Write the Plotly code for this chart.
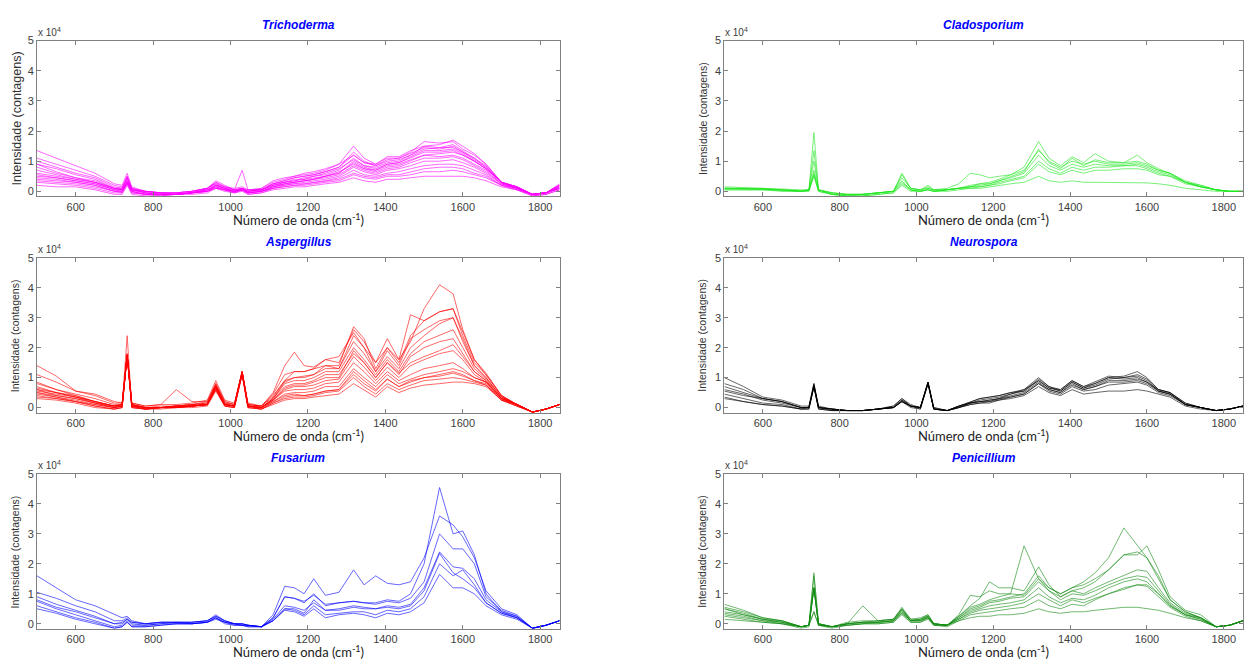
import plotly.graph_objects as go

# Raman shift grid (cm-1) shared by all spectra
WAVENUMBER = [500, 550, 600, 650, 700, 720, 733, 745, 780, 820, 860, 900, 940, 962, 985,
              1010, 1030, 1045, 1080, 1110, 1140, 1165, 1190, 1215, 1245, 1280, 1318, 1345,
              1375, 1405, 1435, 1465, 1500, 1540, 1575, 1600, 1630, 1660, 1700, 1740, 1780,
              1815, 1850]

# Intensities in units of 10^4 counts
TRICHODERMA = [
    [1.35,1.1,0.85,0.6,0.25,0.2,0.6,0.15,0.0,-0.05,-0.05,0.0,0.1,0.25,0.15,0.1,0.15,0.05,0.1,0.3,0.4,0.5,0.55,0.6,0.7,0.9,1.5,1.1,0.9,1.1,1.1,1.3,1.65,1.6,1.65,1.4,1.2,0.9,0.3,0.15,-0.1,-0.05,0.25],
    [1.1,0.9,0.7,0.5,0.2,0.15,0.5,0.1,0.0,-0.05,-0.1,-0.05,0.1,0.3,0.15,0.05,0.7,0.05,0.05,0.25,0.35,0.45,0.5,0.55,0.65,0.8,1.3,1.0,0.85,1.0,1.05,1.2,1.5,1.45,1.55,1.35,1.1,0.85,0.3,0.15,-0.1,-0.05,0.2],
    [0.9,0.75,0.55,0.4,0.1,0.1,0.4,0.1,-0.05,-0.1,-0.1,-0.05,0.05,0.2,0.1,0.0,0.1,0.0,0.05,0.2,0.3,0.4,0.4,0.5,0.55,0.7,1.1,0.85,0.75,0.9,0.95,1.1,1.3,1.3,1.35,1.2,1.0,0.75,0.3,0.15,-0.1,-0.05,0.15],
    [0.7,0.55,0.4,0.3,0.05,0.05,0.35,0.05,-0.05,-0.1,-0.1,-0.05,0.0,0.2,0.1,0.0,0.1,-0.05,0.0,0.15,0.25,0.3,0.35,0.4,0.5,0.6,0.95,0.75,0.65,0.8,0.85,1.0,1.2,1.15,1.2,1.1,0.9,0.7,0.25,0.1,-0.1,-0.05,0.15],
    [0.5,0.45,0.35,0.25,0.05,0.0,0.3,0.0,-0.1,-0.1,-0.1,-0.05,0.0,0.15,0.05,0.0,0.05,-0.05,0.0,0.15,0.2,0.25,0.3,0.35,0.4,0.5,0.8,0.65,0.55,0.7,0.75,0.85,1.0,1.0,1.05,0.95,0.8,0.6,0.25,0.1,-0.1,-0.05,0.1],
    [0.4,0.35,0.3,0.2,0.0,0.0,0.3,0.0,-0.1,-0.1,-0.1,-0.05,0.05,0.15,0.05,0.0,0.05,-0.05,0.0,0.1,0.2,0.25,0.25,0.3,0.35,0.45,0.7,0.55,0.5,0.6,0.65,0.75,0.85,0.9,0.9,0.85,0.7,0.55,0.2,0.1,-0.1,-0.05,0.1],
    [0.3,0.25,0.2,0.1,-0.05,-0.05,0.25,-0.05,-0.1,-0.15,-0.1,-0.05,0.0,0.1,0.05,-0.05,0.05,-0.1,-0.05,0.1,0.15,0.2,0.2,0.25,0.3,0.35,0.55,0.45,0.4,0.5,0.5,0.55,0.65,0.65,0.7,0.65,0.55,0.45,0.2,0.05,-0.15,-0.1,0.05],
    [0.2,0.15,0.15,0.05,-0.1,-0.1,0.2,-0.1,-0.15,-0.15,-0.1,-0.1,-0.05,0.1,0.0,-0.05,0.0,-0.1,-0.05,0.05,0.1,0.15,0.15,0.2,0.25,0.3,0.45,0.35,0.3,0.4,0.4,0.45,0.5,0.5,0.5,0.5,0.45,0.35,0.15,0.05,-0.15,-0.1,0.05],
    [0.9,0.65,0.45,0.3,0.1,0.05,0.5,0.05,0.0,-0.05,-0.05,0.0,0.1,0.35,0.2,0.05,0.1,0.0,0.1,0.35,0.45,0.5,0.6,0.65,0.75,0.9,1.2,0.95,0.9,1.15,1.15,1.35,1.5,1.55,1.7,1.5,1.25,0.9,0.3,0.15,-0.1,-0.05,0.2],
    [0.6,0.5,0.4,0.3,0.1,0.05,0.3,0.05,-0.05,-0.1,-0.1,-0.05,0.05,0.2,0.1,0.0,0.05,0.0,0.05,0.2,0.3,0.35,0.4,0.45,0.5,0.65,0.9,0.75,0.7,0.85,0.9,1.05,1.2,1.25,1.3,1.2,1.0,0.75,0.3,0.1,-0.1,-0.05,0.15],
    [0.8,0.6,0.45,0.35,0.1,0.1,0.45,0.05,0.0,-0.05,-0.05,0.0,0.1,0.3,0.15,0.05,0.1,0.0,0.05,0.25,0.35,0.45,0.5,0.55,0.65,0.8,1.2,0.95,0.85,1.05,1.1,1.25,1.45,1.4,1.5,1.3,1.1,0.8,0.3,0.1,-0.1,-0.05,0.2],
    [0.45,0.4,0.3,0.2,0.0,0.0,0.3,0.0,-0.1,-0.1,-0.1,-0.05,0.0,0.15,0.05,0.0,0.05,-0.05,0.0,0.15,0.25,0.3,0.35,0.4,0.45,0.55,0.85,0.7,0.6,0.75,0.8,0.95,1.1,1.1,1.15,1.05,0.85,0.65,0.25,0.1,-0.1,-0.05,0.1],
    [1.0,0.8,0.6,0.45,0.15,0.1,0.45,0.1,0.0,-0.05,-0.05,0.0,0.1,0.25,0.1,0.05,0.1,0.05,0.05,0.25,0.3,0.35,0.45,0.5,0.6,0.75,1.05,0.85,0.8,0.95,1.0,1.2,1.4,1.45,1.45,1.3,1.05,0.8,0.3,0.15,-0.1,-0.05,0.2],
    [0.35,0.3,0.25,0.15,0.0,-0.05,0.25,-0.05,-0.1,-0.1,-0.1,-0.05,0.0,0.1,0.05,-0.05,0.05,-0.05,0.0,0.1,0.15,0.2,0.25,0.3,0.35,0.4,0.6,0.5,0.45,0.55,0.55,0.65,0.75,0.8,0.8,0.75,0.6,0.5,0.2,0.05,-0.1,-0.05,0.1],
    [0.55,0.45,0.35,0.25,0.05,0.05,0.35,0.05,-0.05,-0.1,-0.1,-0.05,0.05,0.2,0.1,0.0,0.05,0.0,0.05,0.2,0.25,0.3,0.35,0.4,0.5,0.6,1.0,0.8,0.7,0.9,0.95,1.15,1.35,1.35,1.4,1.25,1.0,0.75,0.3,0.1,-0.1,-0.05,0.15],
]

CLADOSPORIUM = [
    [0.1,0.1,0.08,0.05,0.02,0.05,1.95,0.05,-0.05,-0.1,-0.1,-0.05,0.0,0.55,0.1,0.05,0.15,0.05,0.05,0.1,0.2,0.25,0.3,0.4,0.55,0.8,1.65,1.1,0.85,1.15,0.95,1.25,1.0,0.95,1.2,0.95,0.75,0.6,0.35,0.2,0.05,0.0,0.0],
    [0.15,0.12,0.1,0.08,0.05,0.05,1.35,0.05,-0.05,-0.1,-0.1,-0.05,0.0,0.45,0.1,0.05,0.1,0.05,0.1,0.25,0.6,0.55,0.45,0.5,0.55,0.7,1.35,1.0,0.8,1.0,0.9,1.0,0.9,0.9,0.95,0.85,0.7,0.6,0.3,0.2,0.05,0.0,0.0],
    [0.1,0.1,0.1,0.05,0.0,0.05,0.7,0.05,-0.1,-0.1,-0.1,-0.05,0.0,0.35,0.05,0.0,0.1,0.0,0.05,0.1,0.15,0.2,0.25,0.35,0.45,0.6,1.2,0.85,0.7,0.9,0.8,0.9,0.85,0.85,0.9,0.8,0.65,0.55,0.3,0.15,0.05,0.0,0.0],
    [0.1,0.08,0.08,0.05,0.0,0.05,0.6,0.05,-0.1,-0.15,-0.1,-0.05,0.0,0.3,0.05,0.0,0.05,0.0,0.05,0.1,0.15,0.15,0.2,0.3,0.4,0.5,1.0,0.75,0.6,0.8,0.7,0.8,0.8,0.85,0.85,0.75,0.6,0.5,0.3,0.15,0.05,0.0,0.0],
    [0.05,0.05,0.05,0.02,0.0,0.02,0.55,0.0,-0.1,-0.15,-0.15,-0.1,-0.05,0.25,0.05,0.0,0.05,0.0,0.05,0.1,0.1,0.15,0.2,0.25,0.35,0.45,0.9,0.65,0.55,0.7,0.6,0.7,0.7,0.75,0.75,0.7,0.55,0.5,0.25,0.15,0.05,0.0,0.0],
    [0.05,0.05,0.05,0.0,0.0,0.0,0.5,0.0,-0.1,-0.15,-0.15,-0.1,-0.05,0.2,0.0,0.0,0.05,0.0,0.0,0.05,0.1,0.1,0.15,0.2,0.25,0.3,0.5,0.35,0.3,0.35,0.3,0.3,0.3,0.3,0.3,0.28,0.25,0.2,0.1,0.05,0.0,0.0,0.0],
    [0.1,0.1,0.08,0.05,0.0,0.05,1.0,0.05,-0.05,-0.1,-0.1,-0.05,0.0,0.6,0.1,0.05,0.2,0.05,0.05,0.1,0.15,0.25,0.25,0.35,0.5,0.65,1.4,0.95,0.75,1.1,0.85,1.05,0.95,0.95,1.0,0.9,0.7,0.6,0.3,0.15,0.05,0.0,0.0],
]

ASPERGILLUS = [
    [0.8,0.6,0.4,0.2,0.05,0.1,1.8,0.1,0.0,0.0,0.05,0.1,0.2,0.8,0.2,0.1,1.2,0.1,0.05,0.4,0.9,1.2,1.2,1.3,1.6,1.7,2.5,2.0,1.5,2.0,1.6,2.2,3.3,4.1,3.8,2.6,1.6,1.1,0.4,0.1,-0.15,-0.05,0.1],
    [1.1,0.85,0.55,0.4,0.15,0.15,1.8,0.15,0.05,0.1,0.1,0.15,0.25,0.9,0.25,0.15,1.2,0.15,0.05,0.5,1.4,1.85,1.4,1.35,1.6,1.5,2.6,2.2,1.5,2.3,1.6,3.1,2.9,3.2,3.3,2.5,1.6,1.15,0.4,0.1,-0.15,-0.05,0.1],
    [1.4,1.05,0.55,0.45,0.2,0.15,1.75,0.15,0.05,0.1,0.6,0.2,0.2,0.8,0.2,0.1,1.2,0.1,0.05,0.45,1.1,1.2,1.2,1.3,1.4,1.4,2.7,2.3,1.3,2.0,1.5,2.4,2.9,3.2,3.3,2.4,1.5,1.1,0.4,0.1,-0.15,-0.05,0.1],
    [0.85,0.6,0.45,0.3,0.1,0.1,1.75,0.1,0.0,0.05,0.05,0.1,0.15,0.75,0.15,0.1,1.2,0.1,0.05,0.35,0.9,1.0,1.05,1.1,1.3,1.3,2.2,1.8,1.2,1.7,1.3,2.0,2.4,2.8,3.0,2.2,1.4,1.0,0.35,0.1,-0.15,-0.05,0.1],
    [0.7,0.5,0.35,0.2,0.05,0.1,1.75,0.1,0.0,0.0,0.05,0.1,0.1,0.7,0.1,0.05,1.2,0.05,0.0,0.3,0.8,0.9,0.9,1.0,1.2,1.2,2.0,1.6,1.1,1.6,1.2,1.8,2.2,2.4,2.6,2.0,1.3,0.95,0.35,0.1,-0.15,-0.05,0.1],
    [0.6,0.4,0.3,0.15,0.05,0.1,1.75,0.1,0.0,0.0,0.05,0.05,0.1,0.7,0.1,0.05,1.15,0.05,0.0,0.3,0.7,0.8,0.8,0.9,1.1,1.1,1.8,1.5,1.0,1.5,1.1,1.7,2.0,2.2,2.3,1.8,1.2,0.9,0.3,0.1,-0.15,-0.05,0.1],
    [0.5,0.35,0.25,0.1,0.0,0.05,1.75,0.05,-0.05,0.0,0.0,0.05,0.1,0.65,0.1,0.05,1.15,0.05,0.0,0.25,0.55,0.6,0.6,0.65,0.8,0.85,1.5,1.2,0.8,1.2,0.9,1.1,1.3,1.4,1.5,1.3,1.0,0.85,0.3,0.1,-0.15,-0.05,0.1],
    [0.55,0.45,0.35,0.15,0.0,0.05,2.4,0.05,-0.05,0.0,0.0,0.05,0.1,0.7,0.1,0.05,1.2,0.05,0.0,0.2,0.45,0.5,0.5,0.55,0.7,0.7,1.3,1.0,0.7,1.1,0.8,0.95,1.1,1.2,1.3,1.2,1.0,0.85,0.3,0.1,-0.15,-0.05,0.1],
    [0.45,0.35,0.2,0.1,0.0,0.05,1.75,0.05,-0.05,0.0,0.0,0.05,0.1,0.6,0.1,0.05,1.15,0.05,-0.05,0.2,0.4,0.45,0.4,0.45,0.55,0.6,1.1,0.8,0.55,0.95,0.7,0.85,1.0,1.05,1.15,1.05,0.9,0.8,0.25,0.1,-0.15,-0.05,0.1],
    [0.4,0.3,0.2,0.05,-0.05,0.0,1.75,0.0,-0.05,0.0,0.0,0.05,0.1,0.6,0.05,0.0,1.1,0.0,-0.05,0.15,0.3,0.35,0.35,0.4,0.5,0.55,1.0,0.7,0.45,0.8,0.6,0.75,0.9,0.95,1.0,0.95,0.85,0.75,0.25,0.05,-0.15,-0.05,0.1],
    [0.3,0.25,0.15,0.0,-0.05,0.0,1.75,0.0,-0.05,-0.05,0.0,0.0,0.05,0.55,0.05,0.0,1.1,0.0,-0.05,0.1,0.25,0.3,0.3,0.35,0.4,0.45,0.8,0.6,0.35,0.7,0.5,0.65,0.75,0.8,0.85,0.85,0.8,0.7,0.25,0.05,-0.15,-0.05,0.1],
    [0.6,0.5,0.4,0.2,0.05,0.1,1.75,0.1,0.0,0.0,0.05,0.1,0.15,0.75,0.15,0.05,1.2,0.05,0.0,0.3,0.85,1.0,1.0,1.1,1.4,1.3,2.4,2.0,1.2,1.9,1.4,2.3,2.6,2.9,3.0,2.3,1.4,1.0,0.35,0.1,-0.15,-0.05,0.1],
    [0.5,0.4,0.3,0.15,0.0,0.05,1.75,0.05,0.0,0.0,0.05,0.05,0.1,0.65,0.1,0.05,1.15,0.05,0.0,0.25,0.6,0.7,0.7,0.75,0.9,0.95,1.7,1.35,0.9,1.35,1.0,1.4,1.6,1.8,1.9,1.6,1.1,0.85,0.3,0.1,-0.15,-0.05,0.1],
    [0.65,0.5,0.35,0.2,0.05,0.05,1.75,0.05,0.0,0.0,0.05,0.05,0.1,0.7,0.1,0.05,1.15,0.05,0.0,0.25,0.65,0.75,0.75,0.85,1.0,1.0,1.9,1.5,1.0,1.5,1.15,1.5,1.7,1.9,2.1,1.7,1.2,0.9,0.3,0.1,-0.15,-0.05,0.1],
    [0.35,0.3,0.2,0.05,-0.05,0.0,1.75,0.0,-0.05,0.0,0.0,0.05,0.1,0.6,0.05,0.0,1.1,0.0,-0.05,0.15,0.35,0.4,0.4,0.45,0.55,0.6,1.2,0.9,0.6,0.95,0.7,0.9,1.0,1.1,1.2,1.1,0.9,0.75,0.25,0.05,-0.15,-0.05,0.1],
]

NEUROSPORA = [
    [1.0,0.7,0.35,0.25,0.05,0.05,0.8,0.05,-0.05,-0.1,-0.1,-0.05,0.05,0.3,0.1,0.0,0.85,0.0,-0.1,0.05,0.15,0.25,0.3,0.35,0.45,0.6,1.0,0.7,0.6,0.9,0.7,0.8,1.0,1.05,1.2,1.0,0.6,0.5,0.15,0.0,-0.1,-0.05,0.05],
    [0.8,0.6,0.3,0.2,0.0,0.0,0.75,0.0,-0.05,-0.1,-0.1,-0.05,0.0,0.25,0.05,0.0,0.85,-0.05,-0.1,0.05,0.15,0.2,0.25,0.3,0.45,0.55,0.9,0.65,0.55,0.85,0.65,0.75,0.95,1.0,1.05,0.9,0.55,0.45,0.1,0.0,-0.1,-0.05,0.05],
    [0.7,0.5,0.3,0.2,0.0,0.0,0.7,0.0,-0.05,-0.1,-0.1,-0.05,0.0,0.2,0.05,0.0,0.8,-0.05,-0.1,0.0,0.15,0.2,0.2,0.3,0.4,0.5,0.85,0.6,0.5,0.8,0.6,0.7,0.9,0.9,0.95,0.85,0.55,0.45,0.1,0.0,-0.1,-0.05,0.05],
    [0.6,0.45,0.25,0.15,0.0,0.0,0.75,0.0,-0.05,-0.1,-0.1,-0.05,0.0,0.25,0.05,0.0,0.85,-0.05,-0.1,0.05,0.2,0.3,0.35,0.4,0.5,0.55,0.95,0.7,0.55,0.85,0.65,0.8,1.0,0.95,1.0,0.85,0.6,0.5,0.1,0.0,-0.1,-0.05,0.05],
    [0.45,0.3,0.15,0.1,-0.05,-0.05,0.7,-0.05,-0.1,-0.1,-0.1,-0.05,0.0,0.2,0.05,-0.05,0.8,-0.05,-0.1,0.0,0.1,0.15,0.2,0.25,0.35,0.45,0.8,0.55,0.45,0.7,0.55,0.6,0.75,0.8,0.85,0.75,0.5,0.4,0.1,0.0,-0.1,-0.05,0.05],
    [0.35,0.2,0.1,0.05,-0.05,-0.05,0.7,-0.05,-0.1,-0.1,-0.1,-0.05,0.0,0.2,0.0,-0.05,0.8,-0.05,-0.1,0.0,0.1,0.15,0.15,0.25,0.3,0.4,0.7,0.5,0.4,0.6,0.45,0.5,0.55,0.55,0.6,0.55,0.45,0.35,0.05,-0.05,-0.1,-0.05,0.05],
    [0.55,0.4,0.3,0.2,0.0,0.0,0.8,0.0,-0.05,-0.1,-0.1,-0.05,0.05,0.3,0.05,0.0,0.85,0.0,-0.1,0.05,0.2,0.3,0.35,0.4,0.5,0.6,0.9,0.65,0.6,0.9,0.7,0.85,1.05,1.0,1.1,0.95,0.6,0.5,0.15,0.0,-0.1,-0.05,0.05],
    [0.3,0.2,0.1,0.05,-0.05,0.0,0.7,0.0,-0.1,-0.1,-0.1,-0.05,0.0,0.2,0.05,0.0,0.8,-0.05,-0.1,0.0,0.15,0.2,0.25,0.3,0.35,0.45,0.8,0.6,0.5,0.75,0.6,0.7,0.85,0.85,0.9,0.8,0.55,0.45,0.1,0.0,-0.1,-0.05,0.05],
]

FUSARIUM = [
    [0.8,0.55,0.4,0.2,0.0,0.05,0.15,0.05,0.0,0.05,0.05,0.05,0.1,0.25,0.1,0.0,0.0,-0.05,-0.1,0.2,0.9,0.85,0.7,1.0,0.6,0.7,0.75,0.7,0.7,0.8,0.75,1.0,2.0,4.55,3.0,3.1,2.3,1.0,0.4,0.25,-0.15,-0.05,0.1],
    [1.6,1.2,0.8,0.6,0.3,0.2,0.25,0.1,0.0,0.05,0.05,0.05,0.1,0.3,0.1,0.0,0.0,-0.05,-0.1,0.3,1.25,1.2,1.0,1.5,0.95,1.05,1.8,1.3,1.6,1.35,1.3,1.4,2.2,3.6,3.3,2.9,2.2,1.1,0.5,0.3,-0.15,-0.05,0.1],
    [1.05,0.85,0.6,0.4,0.1,0.1,0.2,0.05,0.0,0.05,0.05,0.05,0.1,0.25,0.1,0.0,0.0,-0.05,-0.1,0.2,0.9,0.85,0.75,0.95,0.65,0.7,0.75,0.7,0.65,0.75,0.7,0.85,1.4,3.0,2.5,2.5,2.0,0.9,0.45,0.25,-0.15,-0.05,0.1],
    [0.9,0.65,0.45,0.25,0.0,0.0,0.15,0.0,-0.05,0.0,0.05,0.0,0.05,0.2,0.05,0.0,-0.05,-0.05,-0.1,0.15,0.6,0.55,0.45,0.7,0.45,0.5,0.6,0.55,0.5,0.6,0.55,0.65,1.2,2.4,1.9,1.85,1.5,0.8,0.4,0.2,-0.15,-0.05,0.1],
    [0.75,0.5,0.3,0.1,-0.1,-0.05,0.1,-0.05,-0.05,0.0,0.0,0.0,0.05,0.2,0.05,0.0,-0.05,-0.05,-0.1,0.1,0.5,0.45,0.3,0.6,0.3,0.35,0.4,0.4,0.3,0.45,0.4,0.5,0.9,2.0,1.6,1.8,1.3,0.7,0.35,0.2,-0.15,-0.05,0.1],
    [0.6,0.4,0.2,0.05,-0.15,-0.1,0.05,-0.1,-0.1,-0.05,0.0,0.0,0.05,0.15,0.05,-0.05,-0.05,-0.1,-0.1,0.1,0.45,0.4,0.25,0.5,0.2,0.3,0.35,0.3,0.2,0.35,0.3,0.4,0.7,1.65,1.2,1.2,1.0,0.6,0.3,0.15,-0.15,-0.05,0.1],
    [0.5,0.35,0.15,0.0,-0.15,-0.1,0.05,-0.1,-0.1,-0.05,0.0,0.0,0.05,0.2,0.0,-0.05,-0.05,-0.1,-0.1,0.1,0.5,0.5,0.35,0.8,0.45,0.45,0.55,0.5,0.5,0.55,0.5,0.6,1.1,2.35,1.7,1.5,1.2,0.7,0.35,0.2,-0.15,-0.05,0.1],
]

PENICILLIUM = [
    [0.5,0.3,0.15,0.05,-0.1,-0.05,1.2,0.0,-0.1,0.0,0.05,0.1,0.15,0.5,0.15,0.15,0.25,0.0,-0.05,0.2,0.5,0.6,0.75,0.8,0.9,1.0,1.6,1.2,1.0,1.2,1.4,1.7,2.2,3.2,2.6,2.2,1.5,0.8,0.4,0.2,-0.1,-0.05,0.1],
    [0.65,0.45,0.2,0.1,-0.1,-0.05,0.4,-0.05,-0.1,0.0,0.05,0.05,0.1,0.35,0.1,0.1,0.2,0.0,-0.05,0.3,0.95,0.9,1.1,1.0,1.0,2.6,1.5,1.1,0.9,1.1,1.2,1.4,1.8,2.3,2.3,2.6,1.8,0.9,0.45,0.3,-0.1,-0.05,0.1],
    [0.5,0.35,0.15,0.1,-0.1,-0.05,1.7,0.0,-0.1,0.05,0.1,0.1,0.15,0.55,0.15,0.2,0.3,0.0,-0.05,0.25,0.6,0.85,1.4,1.2,1.2,1.1,1.9,1.3,0.9,1.1,1.0,1.2,1.4,1.6,1.8,1.75,1.2,0.7,0.35,0.2,-0.1,-0.05,0.1],
    [0.4,0.3,0.15,0.05,-0.1,-0.05,1.6,0.0,-0.1,0.0,0.6,0.1,0.15,0.5,0.1,0.15,0.3,0.0,-0.05,0.2,0.45,0.55,0.7,0.75,0.85,0.9,1.4,1.1,0.8,1.0,0.95,1.1,1.3,1.5,1.6,1.55,1.1,0.65,0.3,0.15,-0.1,-0.05,0.1],
    [0.35,0.25,0.1,0.05,-0.1,-0.05,1.2,0.0,-0.1,0.0,0.05,0.05,0.1,0.45,0.1,0.1,0.25,0.0,-0.05,0.15,0.4,0.5,0.6,0.65,0.7,0.8,1.2,0.9,0.7,0.85,0.8,0.95,1.2,1.4,1.5,1.4,1.0,0.6,0.3,0.15,-0.1,-0.05,0.1],
    [0.3,0.2,0.1,0.0,-0.1,-0.05,1.2,-0.05,-0.1,-0.05,0.0,0.05,0.1,0.4,0.1,0.1,0.2,-0.05,-0.05,0.15,0.35,0.45,0.5,0.55,0.6,0.7,1.0,0.8,0.6,0.8,0.7,0.85,1.0,1.2,1.3,1.25,0.9,0.55,0.25,0.1,-0.1,-0.05,0.1],
    [0.15,0.1,0.05,0.0,-0.1,-0.05,0.4,-0.05,-0.1,-0.05,0.0,0.0,0.05,0.3,0.05,0.05,0.15,-0.05,-0.05,0.1,0.2,0.25,0.25,0.3,0.3,0.35,0.5,0.4,0.35,0.4,0.4,0.45,0.5,0.55,0.55,0.5,0.45,0.35,0.2,0.1,-0.1,-0.05,0.1],
    [0.55,0.4,0.2,0.1,-0.1,-0.05,1.2,0.0,-0.1,0.0,0.05,0.05,0.1,0.45,0.1,0.15,0.25,0.0,-0.05,0.25,0.55,0.65,0.8,0.9,1.0,0.95,1.5,1.2,1.0,1.2,1.3,1.5,1.8,2.3,2.4,2.2,1.6,0.8,0.4,0.2,-0.1,-0.05,0.1],
    [0.25,0.15,0.05,0.0,-0.15,-0.1,1.2,-0.05,-0.15,-0.05,0.0,0.0,0.05,0.35,0.05,0.05,0.2,-0.05,-0.1,0.1,0.3,0.35,0.4,0.45,0.5,0.55,0.8,0.6,0.5,0.65,0.6,0.8,1.0,1.15,1.3,1.3,1.0,0.6,0.3,0.2,-0.1,-0.05,0.1],
]

PANEL_NAMES = ["Trichoderma", "Cladosporium", "Aspergillus", "Neurospora", "Fusarium", "Penicillium"]
PANEL_DATA = [TRICHODERMA, CLADOSPORIUM, ASPERGILLUS, NEUROSPORA, FUSARIUM, PENICILLIUM]
PANEL_COLORS = ["#ff00ff", "#1ee61e", "#ff0000", "#000000", "#0000ff", "#128a12"]
X_TICKS = [600, 800, 1000, 1200, 1400, 1600, 1800]
Y_TICKS = [0, 1, 2, 3, 4, 5]
X_RANGE = [500, 1850]
Y_RANGE = [-0.17, 5]

W, H = 1244, 663
COL_PX = [(37, 560), (725, 1244)]
ROW_PX = [(35, 192.5), (254.5, 411), (473, 629.5)]

fig = go.Figure()
layout = dict(width=W, height=H, margin=dict(l=0, r=0, t=0, b=0),
              paper_bgcolor="white", plot_bgcolor="white", showlegend=False)
annotations = []
frame = "#808080"
tickfont = dict(family="Liberation Sans, Arial", size=11, color="#404040")

for i, (name, data, color) in enumerate(zip(PANEL_NAMES, PANEL_DATA, PANEL_COLORS)):
    r, c = divmod(i, 2)
    n = i + 1
    xa = "x" if n == 1 else f"x{n}"
    ya = "y" if n == 1 else f"y{n}"
    for spec in data:
        assert len(spec) == len(WAVENUMBER), (name, len(spec))
        fig.add_trace(go.Scatter(x=WAVENUMBER, y=spec, mode="lines", xaxis=xa, yaxis=ya,
                                 line=dict(color=color, width=0.8), opacity=0.75,
                                 hoverinfo="skip"))
    x0, x1 = COL_PX[c]
    y0, y1 = ROW_PX[r]
    dx = [x0 / W, x1 / W]
    dy = [1 - y1 / H, 1 - y0 / H]
    layout["xaxis" if n == 1 else f"xaxis{n}"] = dict(
        domain=dx, range=X_RANGE, tickvals=X_TICKS, ticks="inside", ticklen=4,
        tickcolor=frame, showline=True, linecolor=frame, linewidth=1, mirror="ticks",
        showgrid=False, zeroline=False, tickfont=tickfont, anchor=ya)
    layout["yaxis" if n == 1 else f"yaxis{n}"] = dict(
        domain=dy, range=Y_RANGE, tickvals=Y_TICKS, ticks="inside", ticklen=4,
        tickcolor=frame, showline=True, linecolor=frame, linewidth=1, mirror="ticks",
        showgrid=False, zeroline=False, tickfont=tickfont, anchor=xa)
    cx = (x0 + x1) / 2 / W
    common = dict(xref="paper", yref="paper", showarrow=False, yanchor="middle")
    # panel title
    annotations.append(dict(text=f"<b><i>{name}</i></b>", x=cx, y=1 - (y0 - 16) / H,
                            xanchor="center",
                            font=dict(family="Liberation Sans, Arial", size=12, color="#0000ff"),
                            **common))
    # exponent label
    annotations.append(dict(text="x 10<sup>4</sup>", x=(x0 - 1) / W, y=1 - (y0 - 9) / H,
                            xanchor="left",
                            font=dict(family="Liberation Sans, Arial", size=10, color="#404040"),
                            **common))
    # x-axis title
    annotations.append(dict(text="Número de onda (cm<sup>-1</sup>)", x=cx, y=1 - (y1 + 23) / H,
                            xanchor="center",
                            font=dict(family="Lato, Open Sans", size=13, color="#222222"),
                            **common))
    # y-axis title
    ysize = 12.5 if i == 0 else 10.5
    yoff = 20 if i == 0 else 22
    annotations.append(dict(text="Intensidade (contagens)", x=(x0 - yoff) / W,
                            y=1 - ((y0 + y1) / 2) / H, xanchor="center", textangle=-90,
                            font=dict(family="Liberation Sans, Arial", size=ysize, color="#333333"),
                            **common))

layout["annotations"] = annotations
fig.update_layout(**layout)
fig.write_html("out.html", config={"displayModeBar": False},
               post_script="document.body.style.margin='0';document.body.style.overflow='hidden';")
